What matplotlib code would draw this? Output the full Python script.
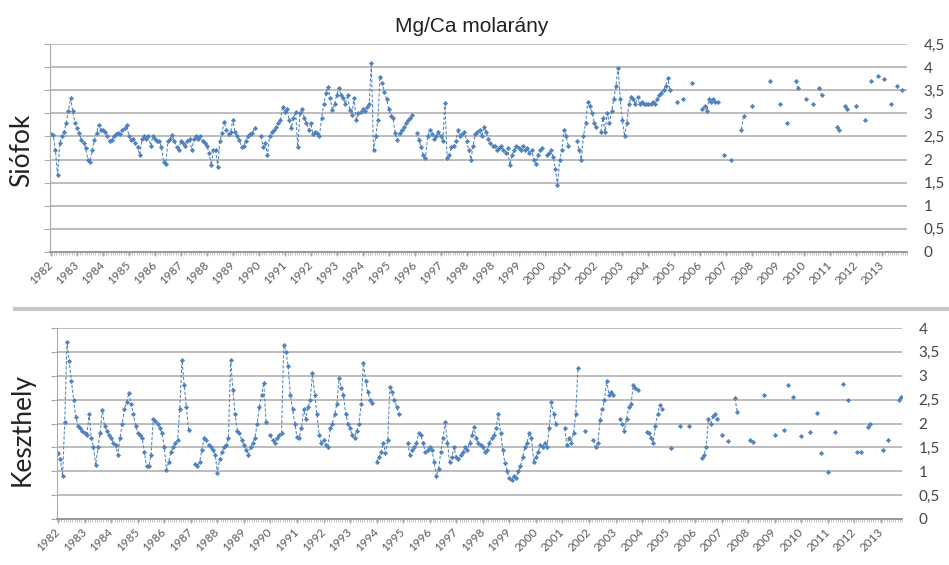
import numpy as np
import matplotlib.pyplot as plt
from matplotlib.lines import Line2D

nan = np.nan

# Siófok Mg/Ca, one row per 12 samples (category axis like the Excel original)
siofok = [
    2.55, 2.53, 2.2, 1.67, 2.36, 2.5, 2.6, 2.79, 3.05, 3.33, 3.05, 2.79,
    2.68, 2.58, 2.42, 2.36, 2.25, 1.99, 1.95, 2.2, 2.42, 2.58, 2.75, 2.64,
    2.64, 2.6, 2.5, 2.4, 2.42, 2.5, 2.55, 2.58, 2.55, 2.64, 2.68, 2.75,
    2.5, 2.42, 2.45, 2.36, 2.27, 2.1, 2.45, 2.5, 2.45, 2.5, 2.3, 2.5,
    2.45, 2.4, 2.4, 2.27, 1.95, 1.9, 2.4, 2.45, 2.53, 2.4, 2.27, 2.2,
    2.4, 2.35, 2.3, 2.4, 2.45, 2.2, 2.45, 2.5, 2.45, 2.5, 2.4, 2.36,
    2.3, 2.14, 1.88, 2.2, 2.2, 1.84, 2.4, 2.58, 2.82, 2.64, 2.55, 2.6,
    2.86, 2.6, 2.5, 2.42, 2.27, 2.3, 2.4, 2.5, 2.55, 2.58, 2.68, nan,
    nan, 2.5, 2.27, 2.35, 2.1, 2.5, 2.6, 2.65, 2.7, 2.79, 2.86, 3.14,
    3.03, 3.1, 2.86, 2.68, 2.9, 3.03, 2.27, 3.0, 3.1, 2.9, 2.79, 2.64,
    2.79, 2.55, 2.6, 2.58, 2.5, 2.9, 3.2, 3.44, 3.57, 3.33, 3.07, 3.2,
    3.4, 3.55, 3.4, 3.33, 3.2, 3.4, 3.07, 2.97, 3.33, 2.86, 3.0, 3.03,
    3.1, 3.05, 3.14, 3.2, 4.09, 2.2, 2.5, 2.86, 3.79, 3.66, 3.46, 3.3,
    3.1, 2.95, 2.9, 2.58, 2.42, 2.58, 2.65, 2.7, 2.79, 2.85, 2.9, 2.97,
    nan, 2.58, 2.42, 2.27, 2.1, 2.03, 2.5, 2.64, 2.55, 2.45, 2.5, 2.6,
    2.5, 2.4, 3.22, 2.03, 2.1, 2.27, 2.3, 2.4, 2.64, 2.5, 2.55, 2.6,
    2.4, 2.2, 2.0, 2.3, 2.55, 2.6, 2.65, 2.5, 2.7, 2.6, 2.45, 2.35,
    2.3, 2.3, 2.2, 2.25, 2.3, 2.2, 2.15, 2.25, 1.88, 2.1, 2.2, 2.3,
    2.25, 2.2, 2.3, 2.2, 2.25, 2.15, 2.2, 2.0, 1.9, 2.1, 2.2, 2.25,
    nan, 2.1, 2.15, 2.2, 2.05, 1.8, 1.45, 2.0, 2.2, 2.64, 2.5, 2.3,
    nan, nan, nan, 2.4, 2.2, 2.0, 2.5, 2.8, 3.25, 3.15, 3.0, 2.8,
    2.7, nan, 2.6, 2.9, 2.6, 3.0, 2.8, 3.05, 3.3, 3.6, 3.98, 3.3,
    2.86, 2.5, 2.8, 3.2, 3.36, 3.3, 3.2, 3.35, 3.2, 3.25, 3.2, 3.2,
    3.2, 3.2, 3.25, 3.2, 3.3, 3.4, 3.45, 3.5, 3.6, 3.76, 3.5, nan,
    nan, 3.25, nan, nan, 3.32, nan, nan, nan, 3.65, nan, nan, nan,
    nan, 3.1, 3.15, 3.05, 3.3, 3.25, 3.3, 3.25, 3.25, nan, nan, 2.1,
    nan, nan, 2.0, nan, nan, nan, nan, 2.65, 2.95, nan, nan, nan,
    3.15, nan, nan, nan, nan, nan, nan, nan, 3.7, nan, nan, nan,
    nan, 3.2, nan, nan, 2.8, nan, nan, nan, 3.7, 3.55, nan, nan,
    nan, 3.3, nan, nan, 3.2, nan, nan, 3.55, 3.4, nan, nan, nan,
    nan, nan, nan, 2.7, 2.65, nan, nan, 3.15, 3.1, nan, nan, nan,
    3.15, nan, nan, nan, 2.85, nan, nan, 3.7, nan, nan, 3.8, nan,
    nan, 3.75, nan, nan, 3.2, nan, nan, 3.6, nan, 3.5, nan,
]

# Keszthely Mg/Ca
keszthely = [
    1.38, 1.25, 0.9, 2.03, 3.7, 3.3, 2.9, 2.5, 2.13, 1.95, 1.9, 1.85,
    1.8, 1.75, 2.2, 1.7, 1.5, 1.13, 1.5, 1.8, 2.28, 1.95, 1.85, 1.75,
    1.7, 1.6, 1.55, 1.34, 1.7, 2.0, 2.3, 2.45, 2.64, 2.4, 2.2, 1.95,
    1.8, 1.75, 1.7, 1.4, 1.1, 1.1, 1.35, 2.1, 2.05, 2.0, 1.9, 1.8,
    1.5, 1.03, 1.2, 1.4, 1.5, 1.6, 1.65, 2.3, 3.33, 2.8, 2.35, 1.86,
    nan, nan, 1.15, 1.1, 1.2, 1.44, 1.7, 1.65, 1.55, 1.5, 1.45, 1.35,
    0.96, 1.25, 1.4, 1.5, 1.55, 1.7, 3.33, 2.7, 2.2, 1.85, 1.8, 1.65,
    1.55, 1.45, 1.34, 1.5, 1.6, 1.7, 2.0, 2.35, 2.6, 2.85, 2.03, nan,
    1.75, 1.65, 1.6, 1.7, 1.75, 1.8, 3.64, 3.5, 3.2, 2.6, 2.3, 2.0,
    1.72, 1.7, 1.9, 2.3, 2.1, 2.35, 2.5, 3.05, 2.6, 2.2, 1.76, 1.6,
    1.65, 1.55, 1.5, 1.9, 2.0, 2.2, 2.4, 2.95, 2.75, 2.6, 2.2, 2.0,
    1.9, 1.75, 1.7, 1.85, 2.0, 2.4, 3.27, 2.9, 2.65, 2.5, 2.43, nan,
    1.2, 1.3, 1.4, 1.6, 1.38, 1.65, 2.77, 2.65, 2.5, 2.35, 2.2, nan,
    nan, nan, 1.6, 1.35, 1.45, 1.5, 1.6, 1.8, 1.75, 1.6, 1.4, 1.45,
    1.5, 1.45, 1.2, 0.9, 1.05, 1.4, 1.7, 2.03, 1.6, 1.2, 1.3, 1.5,
    1.3, 1.25, 1.35, 1.4, 1.5, 1.45, 1.6, 1.75, 1.93, 1.7, 1.6, 1.55,
    1.5, 1.4, 1.45, 1.6, 1.7, 1.75, 1.9, 2.2, 1.8, 1.45, 1.17, 1.0,
    0.85, 0.82, 0.9, 0.85, 1.0, 1.1, 1.3, 1.5, 1.6, 1.8, 1.7, 1.2,
    1.3, 1.4, 1.55, 1.5, 1.6, 1.5, 1.9, 2.45, 2.2, 2.0, nan, nan,
    nan, 1.9, 1.55, 1.7, 1.6, 1.8, 2.2, 3.16, nan, nan, 1.85, nan,
    nan, nan, 1.65, 1.5, 1.6, 2.07, 2.3, 2.5, 2.9, 2.6, 2.65, 2.6,
    nan, nan, 2.1, 2.0, 1.85, 2.1, 2.35, 2.4, 2.8, 2.75, 2.7, nan,
    nan, nan, 1.83, 1.8, 1.7, 1.6, 1.94, 2.2, 2.38, 2.3, nan, nan,
    nan, 1.48, nan, nan, nan, 1.95, nan, nan, nan, 1.95, nan, nan,
    nan, nan, nan, 1.28, 1.35, 1.5, 2.1, 2.0, 2.15, 2.2, 2.1, nan,
    1.76, nan, nan, 1.64, nan, nan, 2.53, 2.25, nan, nan, nan, nan,
    nan, 1.65, 1.62, nan, nan, nan, nan, 2.6, nan, nan, nan, nan,
    1.75, nan, nan, nan, 1.87, nan, 2.8, nan, 2.55, nan, nan, nan,
    1.73, nan, nan, nan, 1.82, nan, nan, 2.22, nan, 1.39, nan, nan,
    0.99, nan, nan, 1.83, nan, nan, nan, 2.83, nan, 2.5, nan, nan,
    nan, 1.4, nan, 1.4, nan, nan, 1.93, 2.0, nan, nan, nan, nan,
    nan, 1.45, nan, 1.65, nan, nan, nan, nan, 2.5, 2.55,
]

# year labels every 12 categories (the Siófok axis repeats 1998)
siofok_years = [str(y) for y in range(1982, 1999)] + ['1998'] + [str(y) for y in range(1999, 2014)]
keszthely_years = [str(y) for y in range(1982, 2014)]
siofok_yticks = [0, 0.5, 1, 1.5, 2, 2.5, 3, 3.5, 4, 4.5]
keszthely_yticks = [0, 0.5, 1, 1.5, 2, 2.5, 3, 3.5, 4]

BLUE = '#4f81bd'
GRID = '#ababab'
TXT = '#454545'

plt.rcParams['font.family'] = ['Lato', 'DejaVu Sans']


def panel(ax, values, years, yticks, ncat):
    x = np.arange(len(values))
    ax.plot(x, values, color=BLUE, lw=0.75, ls=(0, (3, 1.8)),
            marker='D', ms=2.3, mfc=BLUE, mec=BLUE, mew=0.3)
    ax.set_xlim(-0.5, ncat - 0.5)
    ax.set_ylim(0, yticks[-1])
    ax.set_yticks(yticks)
    ax.set_yticklabels([f'{v:g}'.replace('.', ',') for v in yticks])
    ax.yaxis.grid(True, color=GRID, lw=1.1)
    ax.set_axisbelow(True)
    ax.tick_params(axis='y', left=True, right=False, labelleft=False, labelright=True,
                   length=4, color=GRID, labelsize=11, labelcolor=TXT, pad=8)
    ax.set_xticks(np.arange(len(years)) * 12)
    ax.set_xticklabels(years, rotation=45, ha='right', va='center',
                       rotation_mode='anchor', fontsize=8.5, color='#5a5a5a')
    ax.set_xticks(np.arange(ncat + 1) - 0.5, minor=True)
    ax.tick_params(axis='x', which='major', length=3, color=GRID, pad=5)
    ax.tick_params(axis='x', which='minor', length=2.5, width=0.5, color=GRID)
    for s in ('top', 'right'):
        ax.spines[s].set_visible(False)
    ax.spines['left'].set_color(GRID)
    ax.spines['bottom'].set_color('#999999')
    ax.spines['bottom'].set_linewidth(1.4)


fig = plt.figure(figsize=(9.49, 5.65), dpi=100)
W, H = 949, 565

ax1 = fig.add_axes([50 / W, 1 - 252 / H, 857 / W, 208 / H])
panel(ax1, siofok, siofok_years, siofok_yticks, 396)

ax2 = fig.add_axes([57 / W, 1 - 519 / H, 845 / W, 191 / H])
panel(ax2, keszthely, keszthely_years, keszthely_yticks, 382)

fig.text(472 / W, 1 - 26 / H, 'Mg/Ca molarány', ha='center', va='center',
         fontsize=15, color='#222222', family=['Liberation Sans', 'DejaVu Sans'])
fig.text(22 / W, 1 - 150 / H, 'Siófok', rotation=90, ha='center', va='center',
         fontsize=19, color='#222222')
fig.text(22 / W, 1 - 430 / H, 'Keszthely', rotation=90, ha='center', va='center',
         fontsize=19, color='#222222')

# divider between the two chart images
fig.add_artist(Line2D([15 / W, 1], [1 - 309 / H, 1 - 309 / H], color='#c8c8c8', lw=3))

fig.savefig('out.png', dpi=100)
